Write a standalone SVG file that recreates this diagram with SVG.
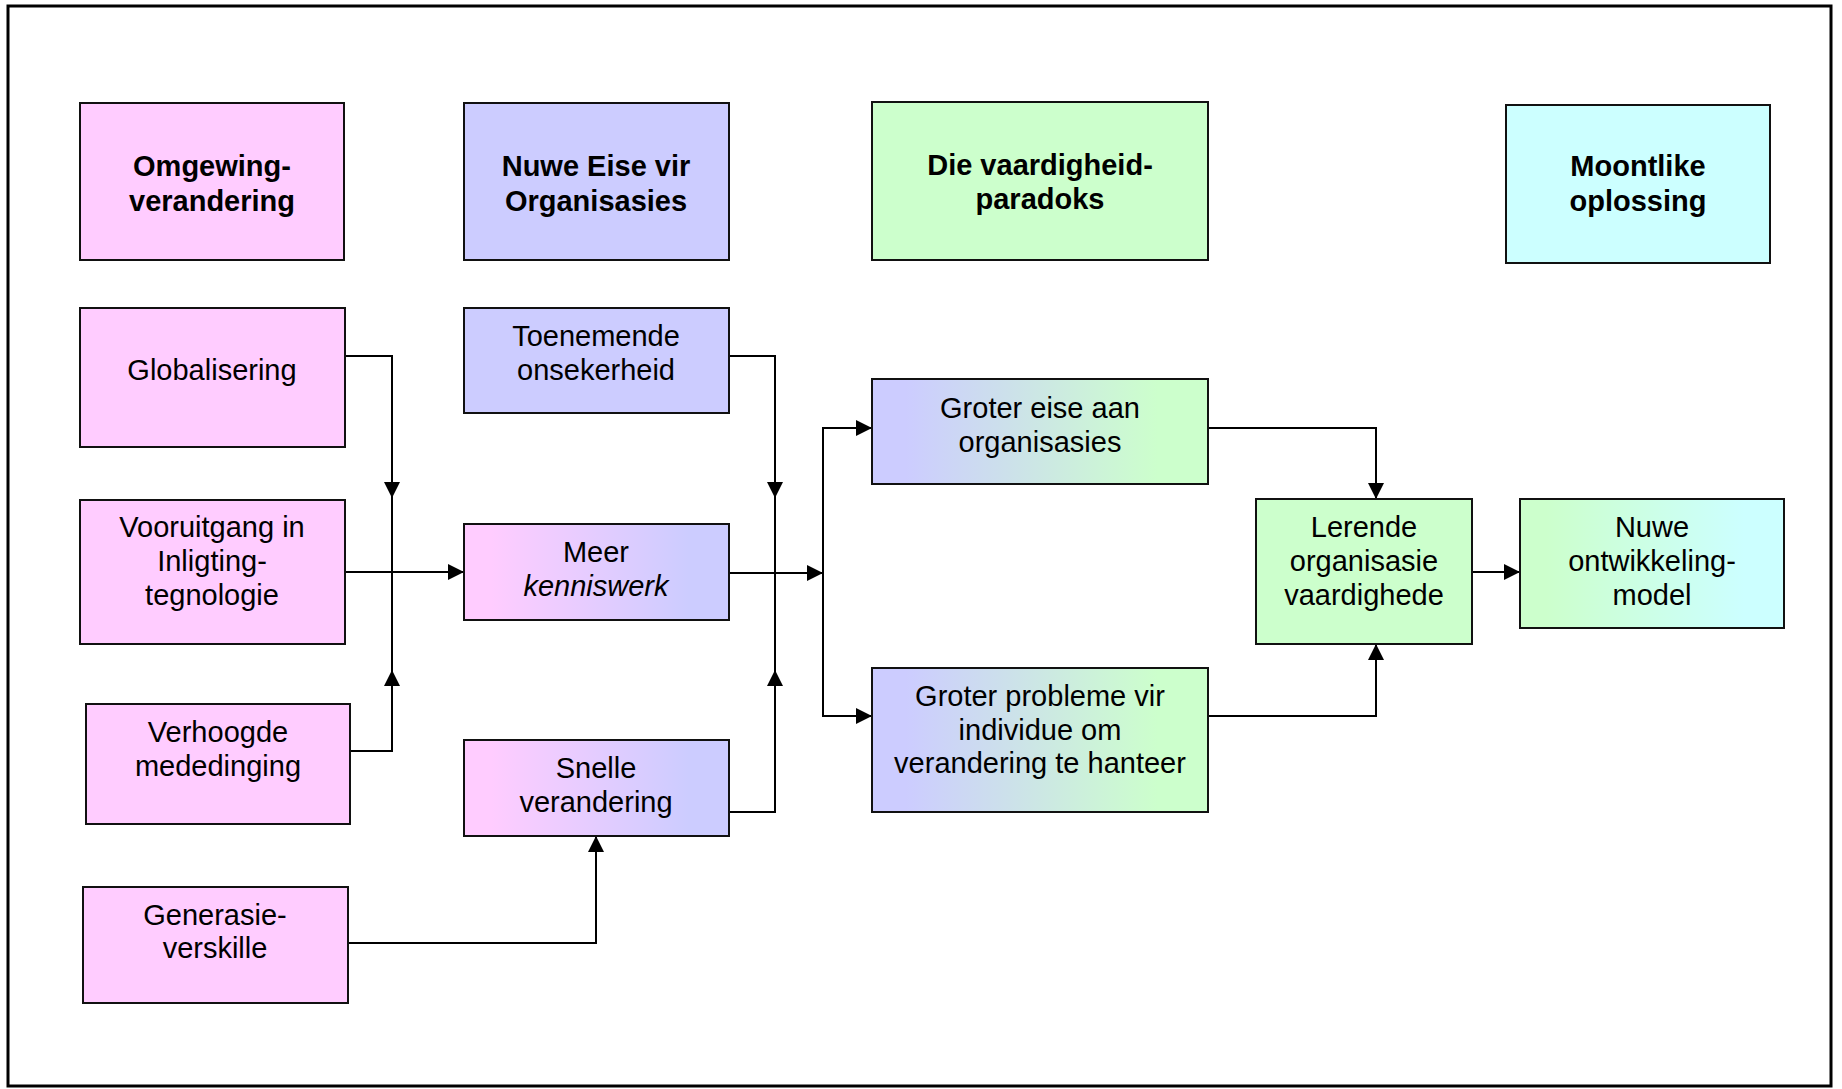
<svg xmlns="http://www.w3.org/2000/svg" width="1842" height="1089" viewBox="0 0 1842 1089">
<style>
.box{stroke:#111;stroke-width:2}
.pink{fill:#FFCCFF}.lav{fill:#CCCCFF}.grn{fill:#CCFFCC}.cyan{fill:#CCFFFF}
text{font-family:"Liberation Sans",Arial,sans-serif;font-size:29px;fill:#000;text-anchor:middle}
.h{font-weight:bold}
.c{fill:none;stroke:#000;stroke-width:2}
</style>
<defs>
<linearGradient id="gPL" x1="0" y1="0" x2="1" y2="0"><stop offset="0.1" stop-color="#FFCCFF"/><stop offset="0.85" stop-color="#CCCCFF"/></linearGradient>
<linearGradient id="gLG" x1="0" y1="0" x2="1" y2="0"><stop offset="0.1" stop-color="#CCCCFF"/><stop offset="0.85" stop-color="#CCFFCC"/></linearGradient>
<linearGradient id="gGC" x1="0" y1="0" x2="1" y2="0"><stop offset="0.1" stop-color="#CCFFCC"/><stop offset="0.85" stop-color="#CCFFFF"/></linearGradient>
<marker id="ah" markerUnits="userSpaceOnUse" markerWidth="17" markerHeight="16" refX="16" refY="8" orient="auto"><path d="M0,0 L16,8 L0,16 z" fill="#000"/></marker>
</defs>
<rect x="8" y="6" width="1823" height="1080" fill="#fff" stroke="#000" stroke-width="3"/>

<g id="connectors">
<path class="c" d="M345,356 H392 V498" marker-end="url(#ah)"/>
<path class="c" d="M350,751 H392 V670" marker-end="url(#ah)"/>
<path class="c" d="M392,498 V670"/>
<path class="c" d="M345,572 H464" marker-end="url(#ah)"/>
<path class="c" d="M729,356 H775 V498" marker-end="url(#ah)"/>
<path class="c" d="M729,812 H775 V670" marker-end="url(#ah)"/>
<path class="c" d="M775,498 V670"/>
<path class="c" d="M729,573 H823" marker-end="url(#ah)"/>
<path class="c" d="M823,573 V428 H872" marker-end="url(#ah)"/>
<path class="c" d="M823,573 V716 H872" marker-end="url(#ah)"/>
<path class="c" d="M1208,428 H1376 V499" marker-end="url(#ah)"/>
<path class="c" d="M1208,716 H1376 V644" marker-end="url(#ah)"/>
<path class="c" d="M1472,572 H1520" marker-end="url(#ah)"/>
<path class="c" d="M348,943 H596 V836" marker-end="url(#ah)"/>
</g>

<g id="h-omgewing"><rect class="box pink" x="80" y="103" width="264" height="157"/><text class="h" x="212" y="176">Omgewing-</text><text class="h" x="212" y="211">verandering</text></g>
<g id="h-nuwe-eise"><rect class="box lav" x="464" y="103" width="265" height="157"/><text class="h" x="596" y="176">Nuwe Eise vir</text><text class="h" x="596" y="211">Organisasies</text></g>
<g id="h-paradoks"><rect class="box grn" x="872" y="102" width="336" height="158"/><text class="h" x="1040" y="175">Die vaardigheid-</text><text class="h" x="1040" y="209">paradoks</text></g>
<g id="h-oplossing"><rect class="box cyan" x="1506" y="105" width="264" height="158"/><text class="h" x="1638" y="176">Moontlike</text><text class="h" x="1638" y="211">oplossing</text></g>

<g id="globalisering"><rect class="box pink" x="80" y="308" width="265" height="139"/><text x="212" y="380">Globalisering</text></g>
<g id="vooruitgang"><rect class="box pink" x="80" y="500" width="265" height="144"/><text x="212" y="537">Vooruitgang in</text><text x="212" y="571">Inligting-</text><text x="212" y="605">tegnologie</text></g>
<g id="verhoogde"><rect class="box pink" x="86" y="704" width="264" height="120"/><text x="218" y="742">Verhoogde</text><text x="218" y="776">mededinging</text></g>
<g id="generasie"><rect class="box pink" x="83" y="887" width="265" height="116"/><text x="215" y="925">Generasie-</text><text x="215" y="958">verskille</text></g>

<g id="toenemende"><rect class="box lav" x="464" y="308" width="265" height="105"/><text x="596" y="346">Toenemende</text><text x="596" y="380">onsekerheid</text></g>
<g id="meer"><rect class="box" fill="url(#gPL)" x="464" y="524" width="265" height="96"/><text x="596" y="562">Meer</text><text x="596" y="596" font-style="italic">kenniswerk</text></g>
<g id="snelle"><rect class="box" fill="url(#gPL)" x="464" y="740" width="265" height="96"/><text x="596" y="778">Snelle</text><text x="596" y="812">verandering</text></g>

<g id="groter-eise"><rect class="box" fill="url(#gLG)" x="872" y="379" width="336" height="105"/><text x="1040" y="418">Groter eise aan</text><text x="1040" y="452">organisasies</text></g>
<g id="groter-probleme"><rect class="box" fill="url(#gLG)" x="872" y="668" width="336" height="144"/><text x="1040" y="706">Groter probleme vir</text><text x="1040" y="740">individue om</text><text x="1040" y="773">verandering te hanteer</text></g>

<g id="lerende"><rect class="box grn" x="1256" y="499" width="216" height="145"/><text x="1364" y="537">Lerende</text><text x="1364" y="571">organisasie</text><text x="1364" y="605">vaardighede</text></g>
<g id="nuwe-model"><rect class="box" fill="url(#gGC)" x="1520" y="499" width="264" height="129"/><text x="1652" y="537">Nuwe</text><text x="1652" y="571">ontwikkeling-</text><text x="1652" y="605">model</text></g>
</svg>
